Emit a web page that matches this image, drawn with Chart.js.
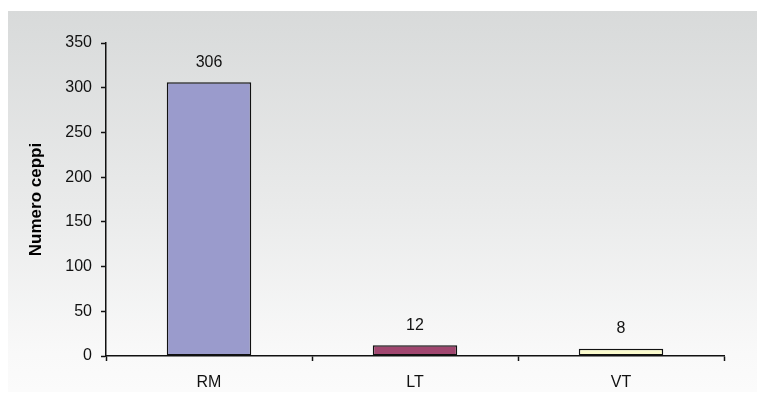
<!DOCTYPE html>
<html>
<head>
<meta charset="utf-8">
<script src="https://cdn.jsdelivr.net/npm/chart.js@4/dist/chart.umd.min.js"></script>
<style>
  html, body { margin: 0; padding: 0; background: #ffffff; }
  #wrap { width: 757px; height: 396px; }
</style>
</head>
<body>
<div id="wrap"><canvas id="c" width="757" height="396"></canvas></div>
<script>
// Strain counts per origin group
const categories = ['RM', 'LT', 'VT'];
const values = [306, 12, 8];
const barColors = ['#9a9bcc', '#a0466f', '#fafacc'];
const yTicks = [0, 50, 100, 150, 200, 250, 300, 350];
const yTitle = 'Numero ceppi';

const FONT = '"Liberation Sans", Arial, sans-serif';

// Grey-to-white panel behind the plot
const panelBackground = {
  id: 'panelBackground',
  beforeDraw(chart) {
    const ctx = chart.ctx;
    ctx.save();
    ctx.fillStyle = '#ffffff';
    ctx.fillRect(0, 0, chart.width, chart.height);
    const g = ctx.createLinearGradient(0, 11, 0, 392);
    g.addColorStop(0, '#d8dada');
    g.addColorStop(0.5, '#e9eaea');
    g.addColorStop(0.9, '#f9f9f9');
    g.addColorStop(1, '#fbfbfb');
    ctx.fillStyle = g;
    ctx.fillRect(8, 11, chart.width - 8, 381);
    ctx.restore();
  }
};

// Value printed above each bar
const valueLabels = {
  id: 'valueLabels',
  afterDatasetsDraw(chart) {
    const ctx = chart.ctx;
    const meta = chart.getDatasetMeta(0);
    ctx.save();
    ctx.font = '16px ' + FONT;
    ctx.fillStyle = '#111111';
    ctx.textAlign = 'center';
    ctx.textBaseline = 'middle';
    meta.data.forEach((bar, i) => {
      ctx.fillText(String(values[i]), bar.x, bar.y - 20);
    });
    ctx.restore();
  }
};

new Chart(document.getElementById('c'), {
  type: 'bar',
  data: {
    labels: categories,
    datasets: [{
      data: values,
      backgroundColor: barColors,
      borderColor: '#111111',
      borderWidth: 1.5,
      borderSkipped: false,
      barPercentage: 0.41,
      categoryPercentage: 1.0
    }]
  },
  options: {
    responsive: false,
    animation: false,
    devicePixelRatio: 1,
    layout: { padding: { top: 43, right: 33, left: 0, bottom: 0 } },
    plugins: {
      legend: { display: false },
      tooltip: { enabled: false }
    },
    scales: {
      x: {
        grid: {
          display: true,
          offset: true,
          drawOnChartArea: false,
          drawTicks: true,
          tickLength: 5,
          tickColor: '#111111',
          tickWidth: 1.5
        },
        border: { display: true, color: '#111111', width: 1.5 },
        ticks: {
          color: '#111111',
          font: { family: FONT, size: 16 },
          padding: 12
        },
        afterFit(scale) { scale.height = 40; }
      },
      y: {
        min: 0,
        max: 350,
        afterBuildTicks(scale) { scale.ticks = yTicks.map(v => ({ value: v })); },
        grid: {
          display: true,
          drawOnChartArea: false,
          drawTicks: true,
          tickLength: 5,
          tickColor: '#111111',
          tickWidth: 1.5
        },
        border: { display: true, color: '#111111', width: 1.5 },
        ticks: {
          color: '#111111',
          font: { family: FONT, size: 16 },
          padding: 9
        },
        title: {
          display: true,
          text: yTitle,
          color: '#000000',
          font: { family: FONT, size: 17, weight: 'bold' },
          padding: { top: 26, bottom: 0 }
        },
        afterFit(scale) { scale.width = 106; }
      }
    }
  },
  plugins: [panelBackground, valueLabels]
});
</script>
</body>
</html>
